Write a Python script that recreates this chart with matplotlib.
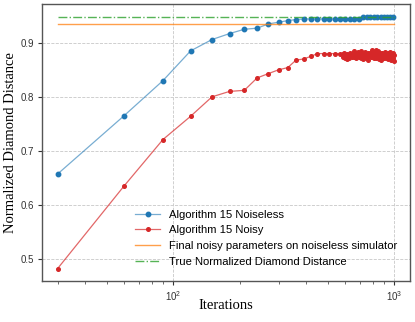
import numpy as np
import matplotlib
matplotlib.use("Agg")
import matplotlib.pyplot as plt

# ---- data ----
iters_noiseless = list(range(30, 1000, 30))
noiseless = [0.657, 0.765, 0.830, 0.885, 0.906, 0.917, 0.925, 0.927, 0.935, 0.938,
             0.941, 0.943, 0.944, 0.944, 0.944, 0.944, 0.944, 0.944, 0.944, 0.944,
             0.944, 0.944, 0.944,
             0.9475, 0.9475, 0.9475, 0.9475, 0.9475, 0.9475, 0.9475, 0.9475, 0.9475, 0.9475]

iters_noisy = list(range(30, 571, 30)) + list(range(585, 1001, 5))
noisy = [0.482, 0.635, 0.721, 0.764, 0.800, 0.810, 0.812, 0.835, 0.843, 0.850,
         0.854, 0.868, 0.870, 0.875, 0.880, 0.880, 0.880, 0.880, 0.880,
         # dense noisy tail (585 .. 1000, every 5 iterations)
         0.879, 0.874, 0.881, 0.872, 0.877, 0.870, 0.879, 0.875, 0.871, 0.882,
         0.876, 0.880, 0.873, 0.878, 0.884, 0.874, 0.879, 0.871, 0.881, 0.876,
         0.883, 0.873, 0.879, 0.875, 0.885, 0.872, 0.878, 0.882, 0.870, 0.877,
         0.874, 0.883, 0.871, 0.879, 0.876, 0.881, 0.869, 0.878, 0.875, 0.882,
         0.873, 0.878, 0.886, 0.874, 0.880, 0.871, 0.883, 0.877, 0.887, 0.872,
         0.879, 0.875, 0.884, 0.870, 0.878, 0.881, 0.873, 0.880, 0.869, 0.877,
         0.882, 0.874, 0.879, 0.871, 0.883, 0.876, 0.880, 0.872, 0.878, 0.875,
         0.881, 0.870, 0.879, 0.874, 0.883, 0.873, 0.880, 0.868, 0.877, 0.875,
         0.882, 0.871, 0.878, 0.867]

line_span = [30, 1000]
final_noisy_on_noiseless = 0.934
true_diamond = 0.948

labels = ["Algorithm 15 Noiseless", "Algorithm 15 Noisy",
          "Final noisy parameters on noiseless simulator",
          "True Normalized Diamond Distance"]

# ---- plot ----
plt.rcParams['font.family'] = ['Liberation Sans', 'DejaVu Sans']
fig = plt.figure(figsize=(4.15, 3.22), dpi=100)
ax = fig.add_axes([0.101, 0.127, 0.887, 0.861])

blue = '#1f77b4'
red = '#d62728'

l1, = ax.plot(iters_noiseless, noiseless, '-', color=blue, lw=0.9, alpha=0.6)
m1, = ax.plot(iters_noiseless, noiseless, 'o', color=blue, ms=3.2, ls='none')
l2, = ax.plot(iters_noisy, noisy, '-', color=red, lw=0.9, alpha=0.7)
m2, = ax.plot(iters_noisy, noisy, 'o', color=red, ms=2.6, ls='none')
l3, = ax.plot(line_span, [final_noisy_on_noiseless] * 2, '-', color='#ff7f0e', lw=1.0, alpha=0.75)
l4, = ax.plot(line_span, [true_diamond] * 2, '-.', color='#2ca02c', lw=1.0, alpha=0.8)

ax.set_xscale('log')
ax.set_xlim(25.5, 1180)
ax.set_ylim(0.459, 0.972)
ax.set_yticks([0.5, 0.6, 0.7, 0.8, 0.9])

ax.grid(True, which='major', linestyle='--', color='#c8c8c8', lw=0.6)
ax.set_axisbelow(True)
for s in ax.spines.values():
    s.set_color('#555555')
    s.set_linewidth(1.0)
ax.tick_params(axis='both', which='major', labelsize=7, length=3, width=0.8,
               pad=2.5, colors='#333333')
ax.tick_params(axis='x', which='minor', length=2, width=0.6, colors='#555555')

ax.set_xlabel('Iterations', family='Liberation Serif', fontsize=10.5)
ax.set_ylabel('Normalized Diamond Distance', family='Liberation Serif', fontsize=10.5)
ax.xaxis.set_label_coords(0.5, -0.065)
ax.yaxis.set_label_coords(-0.068, 0.5)

leg = ax.legend([(l1, m1), (l2, m2), l3, l4], labels, loc='lower right',
                frameon=False, fontsize=8.1, handlelength=2.2,
                bbox_to_anchor=(0.99, 0.02), borderaxespad=0.4, labelspacing=0.5)

fig.savefig('out.png', dpi=100)
